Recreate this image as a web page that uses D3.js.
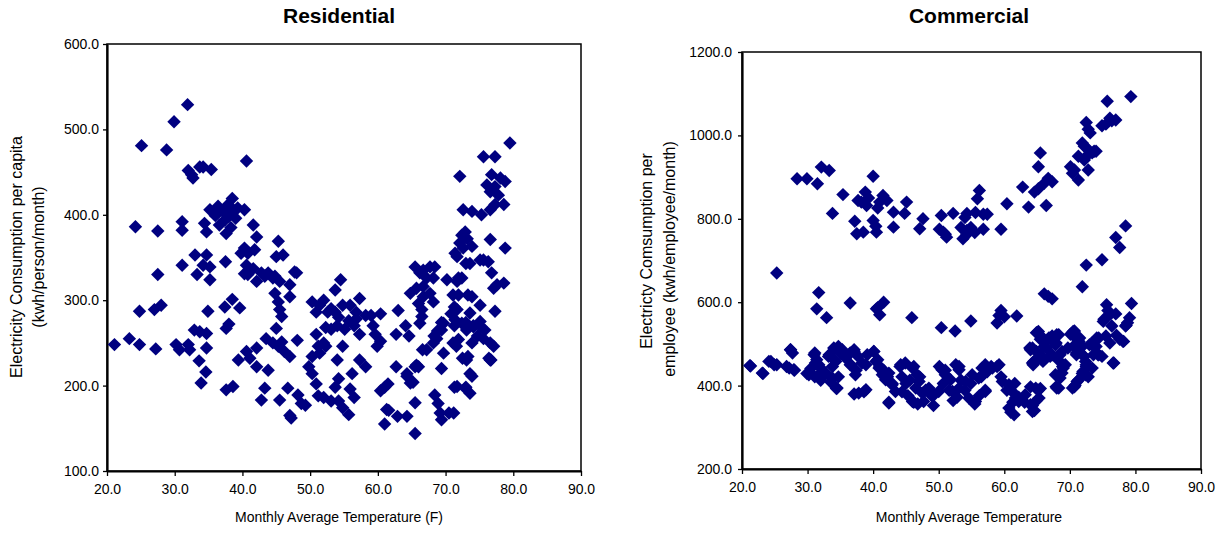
<!DOCTYPE html>
<html>
<head>
<meta charset="utf-8">
<script src="https://cdn.jsdelivr.net/npm/d3@7"></script>
<style>
  body { margin: 0; background: #fff; }
  svg { display: block; font-family: "Liberation Sans", Arial, Helvetica, sans-serif; }
</style>
</head>
<body>
<div id="chart"></div>
<script>
// Residential: [monthly avg temperature (F), kwh/person/month]
const residential = [
  [31.9,529],[29.9,509],[25.1,481],[28.8,476],[40.6,463],
  [32.0,452],[32.7,443],[33.7,456],[34.2,456],[35.4,453],[32.5,447],
  [38.5,419],[35.2,406],[36.4,410],[37.1,404],[37.9,412],[38.6,406],[39.3,408],[40.3,406],[37.4,394],[36.6,388],[37.6,378],
  [38.0,398],[39.0,396],[36.0,399],[38.3,385],
  [24.2,386],[27.5,381],[31.1,392],[31.1,382],[34.4,390],[34.7,380],
  [41.6,388],[42.1,374],[40.3,361],[39.8,355],[40.8,355],[41.8,359],[40.6,341],[41.6,337],[40.3,331],
  [45.3,369],[45.0,351],[46.0,353],[47.7,333],
  [33.0,353],[34.7,353],[34.2,341],[35.2,339],[31.1,341],[37.5,345],[27.5,330],
  [42.8,332],[43.8,332],[44.8,328],
  [33.3,330],[35.2,324],[40.8,330],[42.1,322],[43.3,328],[44.5,326],[45.5,322],[47.0,318],[48.0,332],
  [44.8,308],[45.3,298],[45.5,289],[45.8,281],[47.0,304],
  [24.8,287],[27.0,289],[28.0,294],[34.9,287],[37.4,292],[38.5,301],[39.6,291],
  [21.1,248],[23.3,255],[24.8,248],[27.2,243],[30.2,248],[30.7,242],[32.2,242],[32.0,248],
  [32.9,265],[33.7,263],[34.7,261],[34.7,244],[33.6,229],[34.6,216],[33.9,203],[37.6,267],[38.0,272],
  [39.4,230],[40.6,240],[41.1,232],[42.1,222],[42.1,244],[43.8,218],
  [37.6,195],[38.6,199],
  [43.5,255],[44.5,250],[45.3,246],[45.8,251],[46.2,240],[47.0,234],[45.0,267],[48.1,253],
  [43.3,197],[42.8,183],[46.7,197],[45.5,183],[47.2,162],[47.0,165],[48.2,189],[48.7,179],[49.3,177],
  [50.3,298],[50.9,286],[51.4,294],[52.0,300],[52.6,286],[53.1,290],[53.7,286],[54.2,280],[54.8,294],[54.0,270],[53.1,266],[52.3,268],[54.5,324],[53.7,312],
  [50.9,260],[50.3,234],[49.8,222],[50.3,214],[51.2,246],[52.0,250],[51.4,238],[52.3,246],
  [50.9,202],[51.2,188],[52.0,186],[53.1,182],[54.2,182],[54.8,174],[55.7,166],
  [54.0,230],[54.8,246],[54.2,208],[53.7,198],
  [55.9,294],[56.8,286],[57.3,302],[58.2,282],[59.0,282],[57.3,260],[56.5,270],[56.8,278],[55.1,266],[55.7,276],
  [56.2,214],[55.9,196],[56.5,186],[57.3,230],[58.2,222],
  [59.3,270],[60.4,284],[59.6,260],[60.4,252],[59.9,246],
  [60.4,194],[61.0,198],[61.5,202],[62.7,222],[63.0,288],[62.7,260],
  [64.1,270],[64.6,258],[64.3,214],[65.2,204],[65.5,180],
  [62.9,164],[64.3,164],[61.3,172],[61.0,155],[65.5,144],
  [64.8,203],[64.3,211],[65.5,222],[61.6,171],
  [66.6,242],[65.7,224],[66.0,222],
  [79.5,484],[75.6,468],[77.3,468],[72.1,445],
  [76.8,447],[78.1,443],[76.1,435],[77.3,433],[78.8,439],[76.6,427],[77.8,423],[78.6,412],
  [72.6,406],[73.9,404],[75.3,400],[76.6,406],[77.3,412],
  [72.9,380],[73.2,372],[72.1,367],[71.4,355],[72.6,361],[73.9,363],[71.7,351],[72.4,376],
  [76.6,371],[78.8,361],
  [75.6,347],[76.3,345],[76.8,332],[77.1,314],[77.6,318],[78.6,320],[77.3,287],
  [73.6,343],[75.1,347],
  [71.7,322],[72.4,326],[73.9,304],[75.1,294],[73.6,285],[71.9,306],[71.7,289],
  [71.4,277],[72.4,273],[73.1,265],[74.1,269],[75.1,275],[75.8,265],[75.6,255],[76.6,250],[77.1,246],[76.6,230],
  [65.5,339],[66.2,332],[66.7,335],[67.7,339],[68.4,339],[67.2,326],[68.2,326],[70.2,324],
  [64.8,308],[65.7,314],[66.7,316],[67.7,308],[68.2,298],[66.7,304],[66.0,296],
  [66.5,289],[66.5,281],[66.2,273],[69.7,273],[69.4,265],[68.7,255],[68.2,250],[67.2,242],
  [71.6,246],[73.1,230],[73.9,211],[71.7,199],[72.9,197],[73.6,191],
  [68.4,189],[68.9,179],[69.2,168],[69.4,160],[71.2,168],[70.5,168],
  [68.3,258],[68.8,264],[69.4,274],[69.4,220],[69.7,238],[71.1,306],[71.3,292],[70.8,284],[71.3,270],[71.9,254],
  [71.1,250],[71.3,198],[71.9,326],[73.0,343],[73.3,306],[73.0,274],[74.1,270],[74.7,258],[73.9,250],[73.3,234],
  [72.5,232],[73.6,214],[73.0,198],[75.3,268],[76.4,232],[76.7,230]
];

// Commercial: [monthly avg temperature (F), kwh/employee/month]
const commercialHigh = [
  [28.4,896],[29.9,896],[31.5,884],[32.1,924],[33.3,916],[35.4,858],[33.8,813],[40.0,902],[37.2,794],[37.5,764],
  [38.5,768],[38.8,864],[37.7,844],[39.0,832],[40.0,796],[40.5,768],[41.5,856],[42.1,844],[43.1,816],[43.1,780],
  [45.1,840],[44.8,813],[47.1,776],[47.6,800],[50.4,808],[52.2,813],[54.3,813],[50.7,768],[51.2,756],[53.7,752],
  [54.3,772],[39.3,850],[40.7,826],[41.0,840],[40.4,782],[38.2,840],[50.1,775],[51.0,763],
  [56.2,868],[55.9,848],[56.8,811],[57.4,811],[55.6,815],[54.0,803],[53.4,779],[54.3,763],[54.9,779],[55.5,767],
  [56.8,775],[59.5,775],[60.4,836],[62.8,876],[63.7,828],[64.6,864],[65.2,872],[66.1,885],[66.7,897],[67.3,889],
  [66.4,832],[65.5,958],[65.2,925],
  [70.1,925],[70.4,909],[70.7,917],[71.3,893],[71.3,950],[72.2,941],[72.8,954],[73.7,962],[72.8,917],[71.9,982],
  [72.2,974],[72.8,966],[73.4,958],[74.0,962],[72.5,1031],[72.8,1015],[73.1,1006],[74.9,1023],[75.5,1027],[76.4,1035],
  [77.0,1037],[76.1,1041],[75.7,1082],[79.3,1093]
];
const commercialMid = [
  [79.4,597],[78.5,783],[77.0,755],[77.6,731],[74.9,702],[72.5,689],[71.9,637],[66.1,620],[67.3,608],[66.7,614],
  [61.9,567],[59.5,580],[59.2,568],[58.9,550],[60.0,565],[54.9,555],[52.5,531],[50.4,539],[45.9,563],[41.6,600],
  [40.7,587],[41.0,570],[40.5,584],[36.5,598],[31.7,623],[31.4,584],[32.9,563],[25.3,670]
];
const commercialLow = [
  [21.2,448],[23.1,430],[24.1,458],[24.9,450],[27.4,486],[27.2,442],[27.9,438],[30.2,426],[31.0,474],[31.2,454],
  [32.0,442],[31.7,426],[32.8,430],[33.3,474],[34.0,490],[34.8,486],[34.3,458],[33.8,418],[34.5,394],[35.8,466],
  [36.6,450],[37.1,482],[37.3,426],[37.8,382],[38.9,390],[38.9,450],[39.1,474],[40.1,482],[40.4,458],[40.9,442],
  [41.4,426],[41.9,414],[42.4,430],[42.9,402],[43.4,386],[42.4,358],[44.2,450],[44.9,454],[46.0,442],[46.7,426],
  [47.0,410],[46.5,394],[47.5,382],[47.7,362],[46.0,362],[48.5,394],[49.3,378],[50.0,386],[50.5,438],[51.0,426],
  [51.8,414],[52.6,450],[53.1,438],[52.1,386],[53.1,394],[54.1,410],[55.1,426],[56.1,418],[56.6,442],[57.1,450],
  [58.2,442],[59.2,450],[54.6,370],[55.6,362],[57.1,386],[59.7,410],[60.7,402],[61.2,386],[61.7,370],[60.7,346],
  [61.5,330],[62.2,362],[63.2,378],[64.0,354],[64.8,394],[65.3,370],[64.3,338],[64.3,490],[65.0,526],[64.5,458],
  [65.5,474],[66.8,514],[67.8,498],[67.3,474],[68.3,522],[68.8,482],[67.8,426],[68.3,394],[69.3,450],[68.8,430],
  [70.4,522],[70.9,490],[71.4,506],[71.9,474],[72.4,458],[71.1,410],[70.4,394],[72.4,426],[73.4,442],[73.4,498],
  [74.4,514],[74.4,474],
  [21.3,447],[23.2,429],[24.4,458],[25.3,450],[27.4,486],[27.7,478],[26.8,446],[28.0,437],[29.9,429],[30.5,441],
  [31.1,478],[31.4,462],[31.7,450],[31.1,421],[32.0,413],[32.6,429],[33.2,470],[33.8,446],[34.1,462],[34.7,494],
  [35.0,478],[35.3,486],[34.4,393],[33.5,409],[34.7,421],[35.9,470],[36.5,478],[37.1,486],[37.7,470],[38.3,454],
  [36.5,450],[37.4,437],[37.1,380],[38.6,385],[40.1,482],[40.7,462],[41.0,446],[41.6,437],[42.2,421],[42.9,405],
  [42.4,360],[44.1,446],[44.4,421],[45.0,405],[46.2,446],[45.6,413],[44.4,385],[45.3,376],[46.2,360],[46.8,356],
  [47.1,421],[48.0,389],[48.9,376],[49.2,352],[50.1,446],[51.0,437],[50.7,405],[51.6,389],[52.2,364],[52.8,372],
  [53.1,446],[53.4,413],[54.0,389],[54.9,405],[55.5,356],[56.2,376],[56.5,421],[57.1,389],[57.4,433],[58.0,446],
  [58.9,446],[59.5,421],[60.4,389],[61.0,336],[61.3,360],[61.6,405],[62.2,372],[63.1,360],[64.0,397],[64.3,352],
  [64.6,340],[64.9,364],[65.2,389],[65.5,393],[64.0,486],[64.9,527],[65.5,511],[64.3,454],[64.9,462],[66.1,494],
  [66.7,511],[67.3,519],[67.9,502],[67.0,470],[68.2,462],[67.9,397],[68.5,429],[68.9,446],[70.1,523],[70.7,531],
  [71.3,506],[71.0,478],[71.9,494],[72.2,470],[72.5,446],[71.9,429],[71.3,413],[72.8,421],[70.7,397],[73.4,502],
  [74.0,494],[74.3,474],[74.9,470],[75.2,559],[75.8,580],[76.4,543],[77.0,572],[75.5,519],[76.1,502],[76.7,454],
  [77.6,511],[78.2,506],[78.5,543],[78.8,551],[79.1,563],
  [78.6,545],[78.1,506],[77.1,521],[76.6,454],[76.1,570],[75.6,594],[75.1,554],[74.1,514],[73.0,498],[73.6,474],
  [72.5,450],[72.0,434],[71.0,474],[71.5,514],[70.5,530],[70.8,498],[69.7,490],[70.8,401],[68.5,418],[68.0,394],
  [69.0,442],[68.5,474],[67.0,514],[68.0,522],[66.4,490],[65.9,458],[65.4,522],[64.9,482],[64.4,450],[63.9,490],
  [65.2,530]
];

// Ticks
const tempTicks = [20, 30, 40, 50, 60, 70, 80, 90];
const resTicks = [100, 200, 300, 400, 500, 600];
const comTicks = [200, 400, 600, 800, 1000, 1200];

const W = 1223, H = 534;
const navy = "#000080";

const svg = d3.select("#chart").append("svg")
    .attr("width", W)
    .attr("height", H);

function drawPanel(cfg) {
    const x = d3.scaleLinear().domain([20, 90]).range([cfg.left, cfg.right]);
    const y = d3.scaleLinear().domain(cfg.yDomain).range([cfg.bottom, cfg.top]);
    const g = svg.append("g");

    // cadre haut / droite
    g.append("rect")
        .attr("x", cfg.left).attr("y", cfg.top)
        .attr("width", cfg.right - cfg.left).attr("height", cfg.bottom - cfg.top)
        .attr("fill", "none").attr("stroke", "#000").attr("stroke-width", 1.5);

    // axe X
    g.append("g")
        .attr("transform", `translate(0,${cfg.bottom})`)
        .call(d3.axisBottom(x).tickValues(tempTicks).tickFormat(d3.format(".1f")).tickSizeInner(5).tickSizeOuter(0).tickPadding(8))
        .call(a => a.select(".domain").attr("stroke-width", 2.2))
        .call(a => a.selectAll(".tick line").attr("stroke-width", 1.3))
        .selectAll("text")
        .style("font-size", "14px")
        .style("fill", "#000");

    // axe Y
    g.append("g")
        .attr("transform", `translate(${cfg.left},0)`)
        .call(d3.axisLeft(y).tickValues(cfg.yTicks).tickFormat(d3.format(".1f")).tickSizeInner(4).tickSizeOuter(0).tickPadding(cfg.yPad))
        .call(a => a.select(".domain").attr("stroke-width", 2.2))
        .call(a => a.selectAll(".tick line").attr("stroke-width", 1.3))
        .selectAll("text")
        .style("font-size", "14px")
        .style("fill", "#000");

    // points
    const diamond = d3.symbol().type(d3.symbolSquare).size(90);
    g.selectAll("path.pt")
        .data(cfg.data)
        .enter()
        .append("path")
        .attr("class", "pt")
        .attr("d", diamond)
        .attr("transform", d => `translate(${x(d[0])},${y(d[1])}) rotate(45)`)
        .attr("fill", navy);

    // titre
    g.append("text")
        .attr("x", cfg.titleX).attr("y", 23)
        .attr("text-anchor", "middle")
        .style("font-size", "21px")
        .style("font-weight", "bold")
        .text(cfg.title);

    // titre axe X
    g.append("text")
        .attr("x", cfg.titleX).attr("y", 522)
        .attr("text-anchor", "middle")
        .style("font-size", "14px")
        .text(cfg.xLabel);

    // titre axe Y (deux lignes)
    cfg.yLabel.forEach((line, i) => {
        g.append("text")
            .attr("transform", `translate(${cfg.yLabelX[i]},${cfg.yLabelY[i]}) rotate(-90)`)
            .attr("text-anchor", "middle")
            .style("font-size", "16px")
            .text(line);
    });
}

drawPanel({
    left: 107, right: 581, top: 44, bottom: 471,
    yDomain: [100, 600], yTicks: resTicks, yPad: 4,
    data: residential,
    title: "Residential", titleX: 339,
    xLabel: "Monthly Average Temperature (F)",
    yLabel: ["Electricity Consumption per capita", "(kwh/person/month)"],
    yLabelX: [22, 44], yLabelY: [257, 257]
});

drawPanel({
    left: 742, right: 1201, top: 52, bottom: 469,
    yDomain: [200, 1200], yTicks: comTicks, yPad: 6,
    data: commercialLow.concat(commercialMid, commercialHigh),
    title: "Commercial", titleX: 969,
    xLabel: "Monthly Average Temperature",
    yLabel: ["Electricty Comsumption per", "employee (kwh/employee/month)"],
    yLabelX: [652, 675], yLabelY: [251, 259]
});
</script>
</body>
</html>
